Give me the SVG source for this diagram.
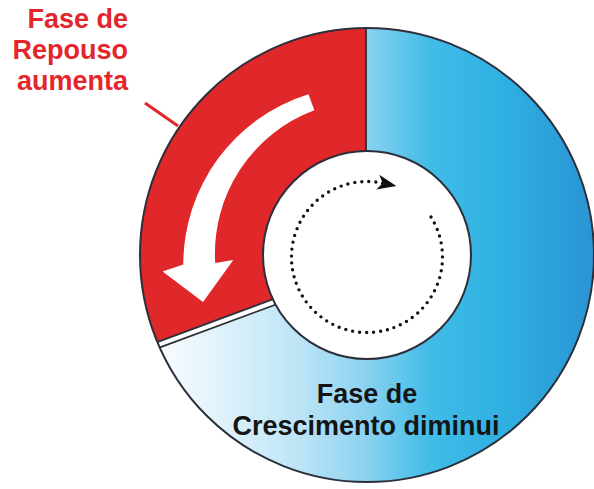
<svg xmlns="http://www.w3.org/2000/svg" width="594" height="489" viewBox="0 0 594 489">
  <style>
    .lbl { font-family: "Liberation Sans", Arial, sans-serif; font-weight: bold; font-size: 27px; }
    .red { fill: #e2262b; }
    .dark { fill: #151515; }
    .edge { stroke: #2d2f3a; stroke-width: 2; fill: none; }
    .thin { stroke: #2d2f3a; stroke-width: 1.8; fill: none; }
  </style>
  <defs>
    <linearGradient id="blueGrad" gradientUnits="userSpaceOnUse" x1="140" y1="0" x2="594" y2="0">
      <stop offset="0" stop-color="#ffffff"/>
      <stop offset="0.13" stop-color="#eaf6fc"/>
      <stop offset="0.35" stop-color="#bde4f6"/>
      <stop offset="0.50" stop-color="#8ad2f0"/>
      <stop offset="0.64" stop-color="#40bce7"/>
      <stop offset="0.80" stop-color="#2fb0e2"/>
      <stop offset="1" stop-color="#2a94d3"/>
    </linearGradient>
    <clipPath id="ring">
      <path clip-rule="evenodd" d="M367 28 A227 227 0 1 0 367 482 A227 227 0 1 0 367 28 Z M367 151 A104 104 0 1 0 367 359 A104 104 0 1 0 367 151 Z"/>
    </clipPath>
    <marker id="dotHead" markerUnits="userSpaceOnUse" markerWidth="22" markerHeight="16" refX="5" refY="7.5" orient="auto" viewBox="0 0 22 16">
      <path d="M0 0 L19 7.5 L0 15 L5 7.5 Z" fill="#111"/>
    </marker>
  </defs>

  <g id="growth-phase">
    <path fill="url(#blueGrad)" fill-rule="evenodd" d="M367 28 A227 227 0 1 0 367 482 A227 227 0 1 0 367 28 Z M367 151 A104 104 0 1 0 367 359 A104 104 0 1 0 367 151 Z"/>
    <text class="lbl dark" x="367" y="403" text-anchor="middle">Fase de</text>
    <text class="lbl dark" x="366" y="435" text-anchor="middle">Crescimento diminui</text>
  </g>

  <g id="rest-phase">
    <g clip-path="url(#ring)">
      <polygon fill="#e0282a" points="0,0 366,0 366,264.7 0,400.4"/>
      <polygon fill="#ffffff" points="366,264.7 0,400.4 0,406.7 366,271.1"/>
      <line class="thin" x1="366" y1="264.7" x2="0" y2="400.4"/>
      <line class="thin" x1="366" y1="271.1" x2="0" y2="406.7"/>
      <line class="thin" x1="366" y1="0" x2="366" y2="255"/>
    </g>
    <path fill="#ffffff" d="M308.5 94.3 A178 178 0 0 0 183.3 264.6 L162.6 271.6 L203 302 L233.3 260 L215.2 263 A153 153 0 0 1 314.3 110.3 Z"/>
    <text class="lbl red" x="128" y="28" text-anchor="end">Fase de</text>
    <text class="lbl red" x="128" y="59" text-anchor="end">Repouso</text>
    <text class="lbl red" x="128" y="90" text-anchor="end">aumenta</text>
  </g>

  <g id="ring-outline">
    <circle class="edge" cx="367" cy="255" r="227"/>
  </g>

  <g id="cycle">
    <circle cx="367" cy="255" r="104" fill="#ffffff" stroke="#2d2f3a" stroke-width="2"/>
  </g>

  <g id="connectors">
    <line x1="145" y1="103" x2="178" y2="126" stroke="#e2262b" stroke-width="3"/>
    <path d="M431 217 A75.5 75.5 0 1 1 382.7 183.2" fill="none" stroke="#111" stroke-width="3.4" stroke-linecap="round" stroke-dasharray="0 7" marker-end="url(#dotHead)"/>
  </g>
</svg>
